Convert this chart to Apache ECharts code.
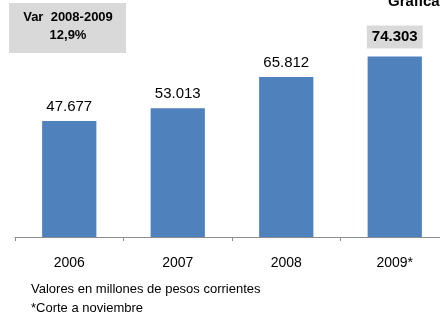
<!DOCTYPE html>
<html>
<head>
<meta charset="utf-8">
<script src="https://cdn.jsdelivr.net/npm/echarts@6/dist/echarts.min.js"></script>
<style>
  html, body { margin: 0; padding: 0; background: #fff; }
  #main { width: 440px; height: 316px; }
</style>
</head>
<body>
<div id="main"></div>
<script>
// datos de la grafica
var years = ['2006', '2007', '2008', '2009*'];
var values = [47.677, 53.013, 65.812, 74.303];
var valueLabels = ['47.677', '53.013', '65.812', '74.303'];
var varTitle = 'Var  2008-2009';
var varValue = '12,9%';
var notes = ['Valores en millones de pesos corrientes', '*Corte a noviembre'];

var font = 'Liberation Sans';
var myChart = echarts.init(document.getElementById('main'));

var barData = values.map(function (v, i) {
    var item = { value: v };
    if (i === values.length - 1) {
        // ultimo valor resaltado en caja gris
        item.label = {
            fontWeight: 'bold',
            backgroundColor: '#d9d9d9',
            padding: [4, 5, 4, 5],
            distance: 8
        };
    }
    return item;
});

var option = {
    animation: false,
    grid: {
        left: 15,
        width: 434,
        top: 0,
        bottom: 79,
        outerBoundsMode: 'none',
        containLabel: false
    },
    xAxis: [{
        type: 'category',
        data: years,
        axisLine: {
            show: true,
            lineStyle: { color: '#8c8c8c', width: 1 }
        },
        axisTick: {
            show: true,
            length: 4,
            lineStyle: { color: '#8c8c8c' }
        },
        axisLabel: {
            color: '#000',
            fontFamily: font,
            fontSize: 14,
            margin: 19
        },
        splitLine: { show: false }
    }],
    yAxis: [{
        type: 'value',
        min: 0,
        max: 97.5,
        show: false,
        splitLine: { show: false }
    }],
    series: [{
        type: 'bar',
        data: barData,
        barWidth: '50%',
        itemStyle: { color: '#4f81bd' },
        label: {
            show: true,
            position: 'top',
            distance: 7,
            color: '#000',
            fontFamily: font,
            fontSize: 15,
            formatter: function (p) { return valueLabels[p.dataIndex]; }
        }
    }],
    graphic: [
        {
            type: 'rect',
            shape: { x: 9, y: 3, width: 117, height: 50 },
            style: { fill: '#d9d9d9' }
        },
        {
            type: 'text',
            x: 68, y: 17,
            style: {
                text: varTitle,
                fill: '#000',
                font: 'bold 13px "Liberation Sans"',
                align: 'center',
                verticalAlign: 'middle'
            }
        },
        {
            type: 'text',
            x: 68, y: 35,
            style: {
                text: varValue,
                fill: '#000',
                font: 'bold 13px "Liberation Sans"',
                align: 'center',
                verticalAlign: 'middle'
            }
        },
        {
            type: 'text',
            x: 388, y: 2,
            style: {
                text: 'Gráfica',
                fill: '#000',
                font: 'bold 15px "Liberation Sans"',
                align: 'left',
                verticalAlign: 'middle'
            }
        },
        {
            type: 'text',
            x: 31, y: 289,
            style: {
                text: notes[0],
                fill: '#000',
                font: '13px "Liberation Sans"',
                verticalAlign: 'middle'
            }
        },
        {
            type: 'text',
            x: 31, y: 308,
            style: {
                text: notes[1],
                fill: '#000',
                font: '13px "Liberation Sans"',
                verticalAlign: 'middle'
            }
        }
    ]
};
myChart.setOption(option);
</script>
</body>
</html>
